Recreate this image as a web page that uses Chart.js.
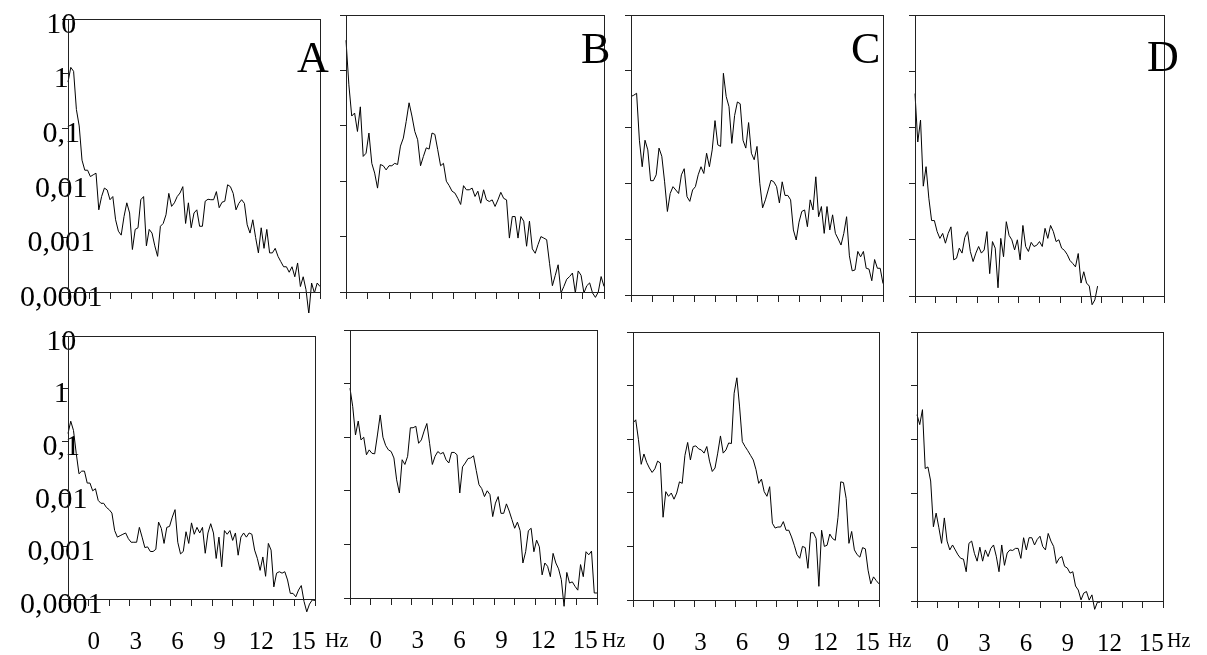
<!DOCTYPE html>
<html>
<head>
<meta charset="utf-8">
<script src="https://cdn.jsdelivr.net/npm/chart.js@4.4.0/dist/chart.umd.min.js"></script>
<style>
    body { margin: 0; width: 1207px; height: 655px; position: relative; overflow: hidden; background: #fff; font-family: 'Liberation Serif', 'Times New Roman', serif; color: #000; }
    canvas { position: absolute; }
    .letra { position: absolute; font-size: 44px; line-height: 44px; }
    .hz { position: absolute; font-size: 20px; line-height: 20px; }
</style>
</head>
<body>
<script>
// frecuencias (Hz) de cada muestra
const hz = [0,0.2,0.4,0.6,0.8,1,1.2,1.4,1.6,1.8,
    2,2.2,2.4,2.6,2.8,3,3.2,3.4,3.6,3.8,
    4,4.2,4.4,4.6,4.8,5,5.2,5.4,5.6,5.8,
    6,6.2,6.4,6.6,6.8,7,7.2,7.4,7.6,7.8,
    8,8.2,8.4,8.6,8.8,9,9.2,9.4,9.6,9.8,
    10,10.2,10.4,10.6,10.8,11,11.2,11.4,11.6,11.8,
    12,12.2,12.4,12.6,12.8,13,13.2,13.4,13.6,13.8,
    14,14.2,14.4,14.6,14.8,15,15.2,15.4,15.6,15.8,
    16,16.2,16.4,16.6,16.8,17,17.2,17.4,17.6,17.8,
    18];

const decadas = [0.0001, 0.001, 0.01, 0.1, 1, 10];
const etiquetasY = ['0,0001', '0,001', '0,01', '0,1', '1', '10'];
const marcasX = [0, 1.5, 3, 4.5, 6, 7.5, 9, 10.5, 12, 13.5, 15, 16.5, 18];
const etiquetasHz = [0, 3, 6, 9, 12, 15];
const letras = ['A', 'B', 'C', 'D'];

// fila de arriba
const aSup = [0.7, 1.3, 1.1, 0.22, 0.11, 0.026, 0.017, 0.017, 0.013, 0.014,
    0.015, 0.0032, 0.0056, 0.008, 0.0074, 0.0049, 0.0056, 0.0021, 0.0013, 0.0011,
    0.0024, 0.0043, 0.0028, 0.0006, 0.0014, 0.0015, 0.0049, 0.0056, 0.0007, 0.0014,
    0.0012, 0.0007, 0.00045, 0.0016, 0.0018, 0.0026, 0.0064, 0.0037, 0.0043, 0.0056,
    0.0065, 0.0085, 0.0018, 0.0043, 0.0015, 0.0028, 0.0032, 0.0016, 0.0016, 0.0046,
    0.005, 0.0049, 0.0049, 0.0069, 0.0035, 0.0044, 0.0046, 0.0092, 0.0085, 0.0064,
    0.0032, 0.0042, 0.0049, 0.0042, 0.0017, 0.0012, 0.0021, 0.001, 0.00052, 0.0015,
    0.00063, 0.0014, 0.00052, 0.00052, 0.00063, 0.00045, 0.00036, 0.00029, 0.00029, 0.00023,
    0.00029, 0.00019, 0.00034, 0.000126, 0.00019, 0.00011, 0.00004, 0.000146, 0.000096, 0.000146, 0.000126];

const bSup = [3.5, 0.55, 0.15, 0.17, 0.079, 0.22, 0.028, 0.032, 0.074, 0.021,
    0.014, 0.0075, 0.02, 0.019, 0.016, 0.019, 0.019, 0.021, 0.02, 0.043,
    0.06, 0.12, 0.26, 0.15, 0.079, 0.056, 0.019, 0.028, 0.04, 0.038,
    0.074, 0.07, 0.037, 0.019, 0.021, 0.01, 0.0083, 0.0066, 0.0061, 0.0049,
    0.0038, 0.0083, 0.007, 0.007, 0.0075, 0.0053, 0.0066, 0.004, 0.007, 0.0046,
    0.0043, 0.0046, 0.0035, 0.0046, 0.0063, 0.0049, 0.0046, 0.00094, 0.0023, 0.0023,
    0.00094, 0.0023, 0.0019, 0.00067, 0.0019, 0.0006, 0.0005, 0.00072, 0.001, 0.00094,
    0.00088, 0.00033, 0.00013, 0.0002, 0.00031, 0.000096, 0.000126, 0.00017, 0.00019, 0.00022,
    0.000096, 0.00024, 0.0002, 0.000096, 0.00013, 0.000146, 0.000096, 0.00008, 0.0001, 0.00019, 0.000126];

const cSup = [0.35, 0.37, 0.40, 0.058, 0.0195, 0.058, 0.039, 0.011, 0.011, 0.014,
    0.042, 0.030, 0.0105, 0.0031, 0.0065, 0.0086, 0.0075, 0.0065, 0.014, 0.018,
    0.0057, 0.0047, 0.0075, 0.0086, 0.014, 0.0195, 0.0148, 0.034, 0.0195, 0.039,
    0.13, 0.048, 0.045, 0.91, 0.35, 0.23, 0.051, 0.16, 0.28, 0.26,
    0.058, 0.042, 0.12, 0.034, 0.026, 0.045, 0.0099, 0.0036, 0.005, 0.0075,
    0.0112, 0.0105, 0.0086, 0.0044, 0.0105, 0.006, 0.006, 0.005, 0.00145, 0.00096,
    0.002, 0.0031, 0.0033, 0.00166, 0.005, 0.0033, 0.0129, 0.0025, 0.0038, 0.00126,
    0.0038, 0.00145, 0.0027, 0.00126, 0.001, 0.00078, 0.00126, 0.0025, 0.0005, 0.00027,
    0.00028, 0.0006, 0.00048, 0.0006, 0.0003, 0.00029, 0.00018, 0.00043, 0.0003, 0.0003, 0.00016];

const dSup = [0.40, 0.055, 0.135, 0.009, 0.02, 0.0055, 0.0022, 0.0022, 0.0014, 0.00106,
    0.0013, 0.00087, 0.0013, 0.0017, 0.00044, 0.00047, 0.00071, 0.00058, 0.0011, 0.0014,
    0.00062, 0.00041, 0.00058, 0.00076, 0.00058, 0.00066, 0.0014, 0.00025, 0.00093, 0.00071,
    0.00014, 0.00106, 0.0005, 0.0021, 0.0012, 0.001, 0.00066, 0.001, 0.00044, 0.0018,
    0.00076, 0.00062, 0.0009, 0.00076, 0.0008, 0.00093, 0.00076, 0.0016, 0.00106, 0.0018,
    0.0014, 0.00093, 0.001, 0.00071, 0.00065, 0.00055, 0.00043, 0.00038, 0.00033, 0.00057,
    0.00017, 0.00027, 0.00017, 0.00015, 0.00007, 0.000085, 0.00015];

// fila de abajo
const aInf = [0.14, 0.24, 0.16, 0.059, 0.024, 0.027, 0.027, 0.016, 0.016, 0.0114,
    0.0125, 0.0075, 0.0066, 0.0066, 0.0055, 0.005, 0.0043, 0.002, 0.0015, 0.0016,
    0.0017, 0.0018, 0.0014, 0.0012, 0.0012, 0.0012, 0.0023, 0.0015, 0.00095, 0.00098,
    0.0008, 0.0008, 0.00088, 0.0029, 0.0022, 0.00114, 0.0023, 0.0024, 0.0036, 0.005,
    0.0012, 0.00072, 0.0008, 0.0019, 0.00114, 0.0028, 0.0017, 0.0023, 0.0018, 0.0023,
    0.00074, 0.0018, 0.0027, 0.0018, 0.00059, 0.0015, 0.00041, 0.002, 0.0017, 0.002,
    0.0013, 0.0018, 0.00068, 0.0015, 0.0018, 0.0015, 0.0018, 0.0017, 0.00085, 0.00059,
    0.00035, 0.00063, 0.00027, 0.00114, 0.00085, 0.00017, 0.00031, 0.00033, 0.00031, 0.00033,
    0.00023, 0.000128, 0.000128, 0.00011, 0.000148, 0.00018, 0.00009, 0.000057, 0.00008, 0.000096, 0.000094];

const bInf = [0.82, 0.37, 0.11, 0.2, 0.089, 0.10, 0.047, 0.058, 0.05, 0.049,
    0.11, 0.26, 0.10, 0.07, 0.058, 0.054, 0.041, 0.016, 0.0091, 0.038,
    0.031, 0.044, 0.15, 0.15, 0.16, 0.077, 0.089, 0.13, 0.18, 0.077,
    0.031, 0.044, 0.054, 0.049, 0.052, 0.038, 0.033, 0.052, 0.052, 0.047,
    0.0091, 0.028, 0.033, 0.04, 0.041, 0.045, 0.024, 0.013, 0.011, 0.0078,
    0.01, 0.0085, 0.0033, 0.0059, 0.0078, 0.0038, 0.0038, 0.0057, 0.0042, 0.0029,
    0.002, 0.0026, 0.0018, 0.00045, 0.00073, 0.0018, 0.002, 0.00073, 0.0012, 0.0009,
    0.00027, 0.00045, 0.00039, 0.00025, 0.00068, 0.00045, 0.00035, 0.00022, 0.00007, 0.0003,
    0.00019, 0.0002, 0.000165, 0.00014, 0.00042, 0.00025, 0.00073, 0.00064, 0.00075, 0.000124, 0.000124];

const cInf = [0.2, 0.23, 0.098, 0.034, 0.053, 0.037, 0.029, 0.024, 0.028, 0.039,
    0.036, 0.0035, 0.0105, 0.0086, 0.0099, 0.0076, 0.0099, 0.016, 0.015, 0.05,
    0.087, 0.041, 0.073, 0.075, 0.066, 0.063, 0.055, 0.073, 0.039, 0.025,
    0.029, 0.055, 0.115, 0.055, 0.063, 0.085, 0.083, 0.72, 1.4, 0.4,
    0.09, 0.073, 0.061, 0.05, 0.041, 0.027, 0.015, 0.018, 0.0105, 0.0086,
    0.013, 0.0027, 0.0022, 0.0023, 0.0023, 0.0029, 0.002, 0.002, 0.0015, 0.00105,
    0.0007, 0.0006, 0.001, 0.00095, 0.00039, 0.0018, 0.0018, 0.0014, 0.00018, 0.002,
    0.001, 0.00105, 0.0017, 0.0014, 0.0013, 0.0035, 0.016, 0.0155, 0.0078, 0.00114,
    0.0019, 0.00086, 0.0007, 0.00063, 0.00095, 0.0009, 0.00036, 0.0002, 0.00027, 0.00023, 0.0002];

const dInf = [0.29, 0.19, 0.36, 0.029, 0.031, 0.017, 0.0024, 0.0043, 0.0023, 0.00118,
    0.0035, 0.0013, 0.00089, 0.0011, 0.00089, 0.00072, 0.00062, 0.0006, 0.00035, 0.00118,
    0.0013, 0.00077, 0.00055, 0.001, 0.00055, 0.00089, 0.00067, 0.00095, 0.0011, 0.00068,
    0.00035, 0.0011, 0.00046, 0.00078, 0.00089, 0.00087, 0.00095, 0.00095, 0.00062, 0.0015,
    0.00089, 0.0015, 0.0015, 0.0011, 0.0014, 0.0016, 0.00103, 0.00089, 0.0018, 0.0013,
    0.00103, 0.0005, 0.00062, 0.00067, 0.00044, 0.00041, 0.00033, 0.00035, 0.00019, 0.00016,
    0.000105, 0.00014, 0.00015, 0.000104, 0.00013, 0.00007, 0.000095, 0.000095];

// caja del area de cada panel: [izq, arriba, der, abajo]
const paneles = [
    { serie: aSup, caja: [68, 19, 320, 292], ejeY: true, ejeX: false },
    { serie: bSup, caja: [346, 15, 604, 292], ejeY: false, ejeX: false },
    { serie: cSup, caja: [631, 15, 883, 295], ejeY: false, ejeX: false },
    { serie: dSup, caja: [915, 15, 1164, 296], ejeY: false, ejeX: false },
    { serie: aInf, caja: [68, 336, 315, 599], ejeY: true, ejeX: true },
    { serie: bInf, caja: [350, 330, 597, 598], ejeY: false, ejeX: true },
    { serie: cInf, caja: [633, 332, 879, 600], ejeY: false, ejeX: true },
    { serie: dInf, caja: [917, 332, 1163, 601], ejeY: false, ejeX: true }
];

const posLetras = [[297, 36], [581, 27], [851, 27], [1147, 35]];
const posHz = [325, 602, 888, 1167];

const MARGEN_IZQ = 68;
const MARGEN_SUP = 20;
const MARGEN_DER = 34;

Chart.defaults.font.family = "'Liberation Serif', 'Times New Roman', serif";
Chart.defaults.color = '#000';

const marco = {
    id: 'marco',
    afterDraw(chart) {
        const { ctx, chartArea: a } = chart;
        ctx.save();
        ctx.strokeStyle = '#222';
        ctx.lineWidth = 1;
        ctx.strokeRect(Math.round(a.left) + 0.5, Math.round(a.top) + 0.5,
            Math.round(a.right - a.left), Math.round(a.bottom - a.top));
        ctx.restore();
    }
};

function crearPanel(p) {
    const [izq, arr, der, aba] = p.caja;
    const abajo = p.ejeX ? 57 : 21;
    const lienzo = document.createElement('canvas');
    lienzo.width = (der - izq) + MARGEN_IZQ + MARGEN_DER;
    lienzo.height = (aba - arr) + MARGEN_SUP + abajo;
    lienzo.style.left = (izq - MARGEN_IZQ) + 'px';
    lienzo.style.top = (arr - MARGEN_SUP) + 'px';
    document.body.appendChild(lienzo);

    const escalas = {
        x: {
            type: 'linear', min: 0, max: 18,
            afterBuildTicks: s => { s.ticks = marcasX.map(v => ({ value: v })); },
            ticks: { display: false },
            grid: { drawOnChartArea: false, tickLength: 7, color: '#222' },
            border: { color: '#222' },
            afterFit: s => { s.height = 7; }
        },
        y: {
            type: 'logarithmic', min: 0.0001, max: 10,
            afterBuildTicks: s => { s.ticks = decadas.map(v => ({ value: v })); },
            ticks: {
                display: p.ejeY,
                autoSkip: false,
                callback: (v, i) => etiquetasY[i],
                font: { size: 30 },
                // mirror evita que la etiqueta se recorte en el borde del eje
                mirror: true,
                crossAlign: 'center',
                padding: -48,
                labelOffset: 6
            },
            grid: { drawOnChartArea: false, tickLength: 6, color: '#222' },
            border: { color: '#222' },
            afterFit: s => { s.width = MARGEN_IZQ; }
        }
    };

    if (p.ejeX) {
        escalas.x2 = {
            type: 'linear', position: 'bottom', weight: 1,
            min: -1.85, max: 15.85,
            afterBuildTicks: s => { s.ticks = etiquetasHz.map(v => ({ value: v })); },
            ticks: { autoSkip: false, maxRotation: 0, font: { size: 25 }, padding: 21, callback: v => String(v) },
            grid: { display: false, drawTicks: false },
            border: { display: false },
            afterFit: s => { s.height = 50; }
        };
    }

    new Chart(lienzo, {
        type: 'line',
        data: {
            labels: hz,
            datasets: [{
                data: p.serie,
                xAxisID: 'x',
                yAxisID: 'y',
                borderColor: '#000',
                borderWidth: 1,
                pointRadius: 0,
                tension: 0,
                fill: false,
                clip: false
            }]
        },
        options: {
            responsive: false,
            animation: false,
            events: [],
            layout: { padding: { top: MARGEN_SUP, right: MARGEN_DER, left: 0, bottom: p.ejeX ? 0 : 14 } },
            plugins: { legend: { display: false }, tooltip: { enabled: false } },
            scales: escalas
        },
        plugins: [marco]
    });
}

paneles.forEach(crearPanel);

letras.forEach((l, i) => {
    const div = document.createElement('div');
    div.className = 'letra';
    div.textContent = l;
    div.style.left = posLetras[i][0] + 'px';
    div.style.top = posLetras[i][1] + 'px';
    document.body.appendChild(div);
});

posHz.forEach(x => {
    const div = document.createElement('div');
    div.className = 'hz';
    div.textContent = 'Hz';
    div.style.left = x + 'px';
    div.style.top = '630px';
    document.body.appendChild(div);
});
</script>
</body>
</html>
